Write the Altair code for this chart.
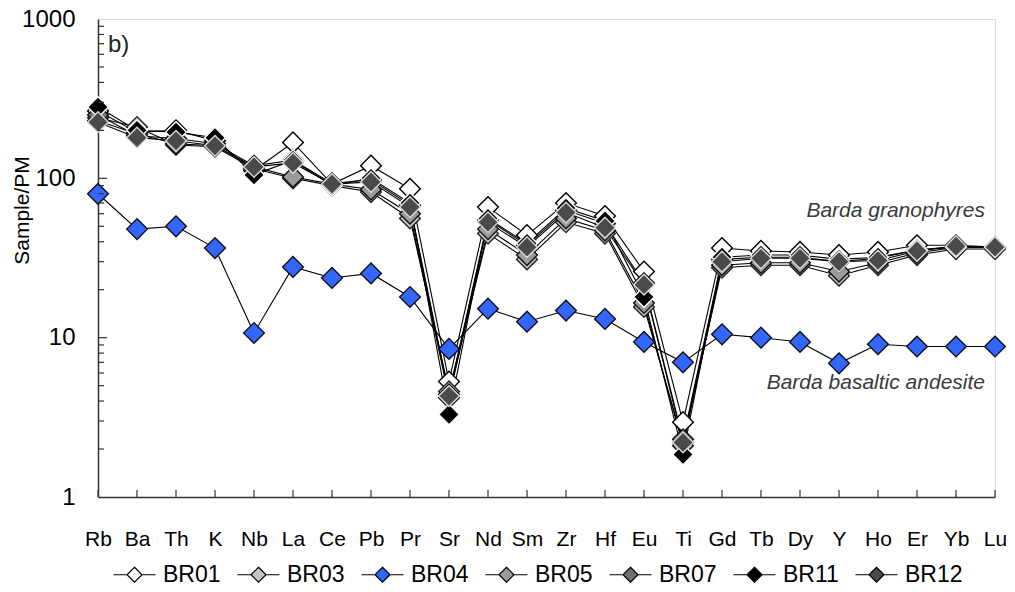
import altair as alt
import pandas as pd

elements = ["Rb", "Ba", "Th", "K", "Nb", "La", "Ce", "Pb", "Pr", "Sr", "Nd", "Sm",
            "Zr", "Hf", "Eu", "Ti", "Gd", "Tb", "Dy", "Y", "Ho", "Er", "Yb", "Lu"]

br01 = [265, 195, 200, 172, 112, 168, 92, 120, 86, 5.3, 66, 44, 70, 58, 26, 2.95, 36.5, 35, 34.5, 33, 34.5, 38, 38, 37]
br03 = [240, 210, 162, 158, 115, 100, 90, 82, 56, 4.6, 45, 31, 53, 45, 15.6, 2.2, 27.5, 28.5, 28.5, 24.5, 28.5, 33, 36, 36]
br04 = [80, 48, 50, 36.5, 10.7, 27.8, 23.7, 25.3, 18, 8.5, 15.2, 12.6, 14.8, 13.1, 9.4, 7.0, 10.5, 10.0, 9.4, 6.9, 9.1, 8.8, 8.8, 8.8]
br05 = [230, 190, 165, 160, 118, 102, 92, 85, 60, 4.2, 48, 33, 56, 47, 16.5, 2.1, 28.5, 29.5, 29.5, 26, 29.5, 34, 37, 37]
br07 = [250, 185, 178, 165, 120, 130, 93, 98, 68, 4.4, 55, 38, 63, 52, 22, 2.3, 31, 32, 32, 30, 31.5, 35.5, 37.5, 37]
br11 = [280, 200, 195, 180, 105, 130, 90, 100, 70, 3.3, 56, 39, 65, 54, 18, 1.85, 32, 33, 33, 31, 32, 35.5, 37, 37]
br12 = [225, 180, 172, 160, 118, 125, 92, 95, 66, 4.3, 53, 37, 61, 49, 21.5, 2.2, 30, 31.5, 31.5, 30, 30.5, 35, 37.5, 37]

samples = ["BR01", "BR03", "BR04", "BR05", "BR07", "BR11", "BR12"]
series = [br01, br03, br04, br05, br07, br11, br12]
fills = ["#ffffff", "#c4c4c4", "#3366ff", "#9b9b9b", "#707070", "#000000", "#4a4a4a"]
strokes = ["#000000", "#222222", "#111111", "#111111", "#111111", "#ffffff", "#d8d8d8"]

minor_ticks = [2, 3, 4, 5, 6, 7, 8, 9, 20, 30, 40, 50, 60, 70, 80, 90,
               200, 300, 400, 500, 600, 700, 800, 900]
major_ticks = [10, 100]

rows = []
for s, vals, sc in zip(samples, series, strokes):
    for i, (e, v) in enumerate(zip(elements, vals)):
        rows.append({"sample": s, "element": e, "order": i, "value": v, "edge": sc})
df = pd.DataFrame(rows)

W, H = 897, 478
FONT = "Liberation Sans"

xscale = alt.Scale(type="point", padding=0, domain=elements)
yscale = alt.Scale(type="log", domain=[1, 1000], nice=False)

x_enc = alt.X("element:N", scale=xscale, sort=elements,
              axis=alt.Axis(title=None, labelFontSize=21, labelFont=FONT, labelColor="#000",
                            labelPadding=31, tickSize=0, labelAngle=0,
                            domainColor="#333", domainWidth=1.5))
y_enc = alt.Y("value:Q", scale=yscale,
              axis=alt.Axis(title="Sample/PM", values=[1, 10, 100, 1000],
                            labelExpr="datum.value", labelFontSize=24, labelFont=FONT,
                            labelColor="#000", labelPadding=23, tickSize=0, grid=False,
                            titleFontSize=21, titleFont=FONT, titleFontWeight="normal",
                            titleColor="#000", titleX=-76, titleY=191, titleAngle=270,
                            titleAlign="center", titleBaseline="middle",
                            domainColor="#333", domainWidth=1.5))

base = alt.Chart(df)

halo = base.mark_line(color="white", strokeWidth=3.5).encode(
    x=x_enc, y=y_enc, detail="sample:N", order="order:Q"
).transform_filter(alt.datum.sample != "BR04")

lines = base.mark_line(color="black", strokeWidth=1.1).encode(
    x=x_enc, y=y_enc, detail="sample:N", order="order:Q"
)

legend_shape = "M-2.8,0L-1,0M1,0L2.8,0M0,-1L1,0L0,1L-1,0Z"

points = base.mark_point(shape="diamond", size=430, filled=True, opacity=1, strokeWidth=1.4).encode(
    x=x_enc, y=y_enc,
    fill=alt.Fill("sample:N", scale=alt.Scale(domain=samples, range=fills),
                  sort=samples,
                  legend=alt.Legend(title=None, orient="none", direction="horizontal",
                                    columns=7, legendX=25, legendY=544,
                                    symbolType=legend_shape, symbolSize=225,
                                    symbolStrokeColor="black", symbolStrokeWidth=1.2,
                                    symbolOpacity=1,
                                    labelFontSize=23, labelFont=FONT, labelColor="#000",
                                    labelOffset=17, columnPadding=14)),
    stroke=alt.Stroke("edge:N", scale=None),
    order=alt.Order("sample:N", sort="ascending"),
)

tick_df = pd.DataFrame({"v": minor_ticks})
minor = alt.Chart(tick_df).mark_rule(color="#333", strokeWidth=1.2).encode(
    y=alt.Y("v:Q", scale=yscale), x=alt.value(0), x2=alt.value(6))
major_df = pd.DataFrame({"v": major_ticks})
major = alt.Chart(major_df).mark_rule(color="#333", strokeWidth=1.2).encode(
    y=alt.Y("v:Q", scale=yscale), x=alt.value(0), x2=alt.value(9))
xt_df = pd.DataFrame({"element": elements})
xticks = alt.Chart(xt_df).mark_rule(color="#333", strokeWidth=1.2).encode(
    x=alt.X("element:N", scale=xscale, sort=elements), y=alt.value(H), y2=alt.value(H - 7))

ann_df = pd.DataFrame({
    "element": ["Lu", "Lu"],
    "value": [62, 5.2],
    "label": ["Barda granophyres", "Barda basaltic andesite"],
})
ann = alt.Chart(ann_df).mark_text(align="right", baseline="middle", fontSize=21, font=FONT,
                                  fontStyle="italic", color="#3a3a3a", dx=-10).encode(
    x=alt.X("element:N", scale=xscale, sort=elements),
    y=alt.Y("value:Q", scale=yscale), text="label:N")

b_df = pd.DataFrame({"element": ["Rb"], "value": [690], "label": ["b)"]})
blabel = alt.Chart(b_df).mark_text(align="left", baseline="middle", fontSize=24, font=FONT,
                                   color="#222", dx=10).encode(
    x=alt.X("element:N", scale=xscale, sort=elements),
    y=alt.Y("value:Q", scale=yscale), text="label:N")

chart = alt.layer(halo, lines, points, minor, major, xticks, ann, blabel).properties(
    width=W, height=H,
    autosize=alt.AutoSizeParams(type="none"),
    padding={"left": 98, "top": 19, "right": 20, "bottom": 95},
).configure_view(stroke="#333", strokeWidth=1.5).configure(background="white")

chart.save("out.html", embed_options={"renderer": "svg", "actions": False})
